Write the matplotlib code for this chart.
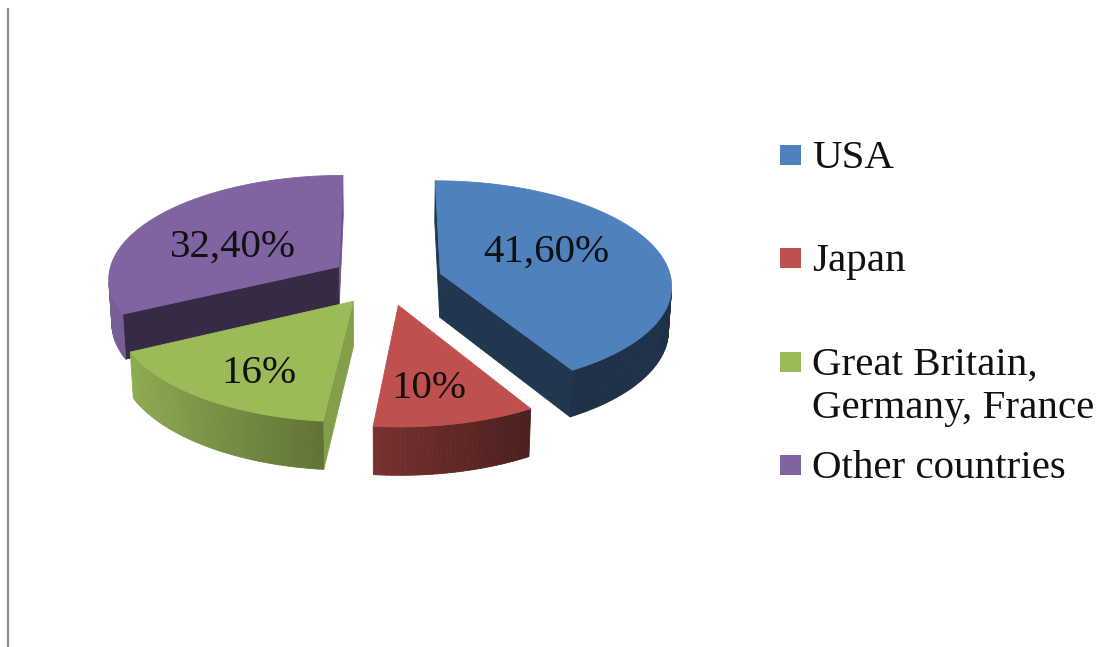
import numpy as np
import matplotlib.pyplot as plt
from matplotlib.patches import Polygon, Rectangle
from matplotlib.collections import PolyCollection
from matplotlib.colors import to_rgb

countries = ["USA", "Japan", "Great Britain,\nGermany, France", "Other countries"]
shares = [41.6, 10.0, 16.0, 32.4]
colors = ["#4F81BD", "#C0504D", "#9BBB59", "#8064A2"]

# where the value sits on each top face: (distance in radii, angle shift in deg)
label_pos = [(0.54, -12.5), (0.69, 2.5), (0.70, -3.0), (0.535, -5.0)]

# 3d view, canvas is in pixel units
CX, CY = 386, 280
F = 231            # pie radius (px)
EL = np.radians(26.6)
DIST = 8.7         # camera distance, in radii
THICK = 0.215
EXPLODE = 0.245
FS = 29.5
FONT = "Liberation Serif"

S, C = np.sin(EL), np.cos(EL)
cam = np.array([0.0, -DIST * C, DIST * S])


def depth(u, v, z):
    return 1 + (v * C - z * S) / DIST


def project(u, v, z):
    d = depth(u, v, z)
    return CX + F * u / d, CY - F * (v * S + z * C) / d


def facing(p, n):
    return np.dot(n, cam - p) > 0


def rim_shade(t):
    # light comes from the left for the curved side
    return max(0.38, 0.58 + 0.38 * np.cos(np.radians(t - 270)))


def cut_shade(t):
    # flat cut faces are dark unless they look to the right
    return 0.42 + 0.45 * max(0.0, np.cos(np.radians(t - 90))) ** 8


def shade(col, k):
    return tuple(np.clip(np.array(to_rgb(col)) * k, 0, 1))


fig = plt.figure(figsize=(11.02, 6.47), dpi=100)
ax = fig.add_axes([0, 0, 1, 1])
ax.set_xlim(0, 1102)
ax.set_ylim(647, 0)
ax.axis("off")

# frame line on the left
ax.plot([8, 8], [8, 647], color="#8a8a8a", lw=1.6, solid_capstyle="butt")

bounds = np.concatenate([[0], np.cumsum(shares)]) / sum(shares) * 360
slices = []
for i in range(len(shares)):
    t1, t2 = bounds[i], bounds[i + 1]
    mid = (t1 + t2) / 2
    ou = EXPLODE * np.sin(np.radians(mid))
    ov = EXPLODE * np.cos(np.radians(mid))
    slices.append((depth(ou, ov, 0), i, t1, t2, mid, ou, ov))

# farthest slice first
slices.sort(key=lambda s: -s[0])

for _, i, t1, t2, mid, ou, ov in slices:
    col = colors[i]
    th = np.linspace(t1, t2, int(t2 - t1) + 2)
    ru = ou + np.sin(np.radians(th))
    rv = ov + np.cos(np.radians(th))

    faces = []
    # curved side
    for k in range(len(th) - 1):
        tm = np.radians((th[k] + th[k + 1]) / 2)
        n = np.array([np.sin(tm), np.cos(tm), 0])
        p = np.array([ou + np.sin(tm), ov + np.cos(tm), -THICK / 2])
        if facing(p, n):
            quad = [project(ru[k], rv[k], 0), project(ru[k + 1], rv[k + 1], 0),
                    project(ru[k + 1], rv[k + 1], -THICK), project(ru[k], rv[k], -THICK)]
            faces.append((depth(*p), quad, shade(col, rim_shade(np.degrees(tm)))))
    # cut faces
    for t, sgn in ((t1, -1), (t2, 1)):
        a = np.radians(t)
        n = np.array([sgn * np.cos(a), -sgn * np.sin(a), 0])
        eu, ev = ou + np.sin(a), ov + np.cos(a)
        p = np.array([(ou + eu) / 2, (ov + ev) / 2, -THICK / 2])
        if facing(p, n):
            quad = [project(ou, ov, 0), project(eu, ev, 0),
                    project(eu, ev, -THICK), project(ou, ov, -THICK)]
            nang = np.degrees(np.arctan2(n[0], n[1])) % 360
            faces.append((depth(*p), quad, shade(col, cut_shade(nang))))

    faces.sort(key=lambda f: -f[0])
    if faces:
        fc = [f[2] for f in faces]
        ax.add_collection(PolyCollection([f[1] for f in faces], facecolors=fc,
                                         edgecolors=fc, linewidths=0.6))

    top = [project(ou, ov, 0)] + [project(u, v, 0) for u, v in zip(ru, rv)]
    ax.add_patch(Polygon(top, closed=True, facecolor=col, edgecolor=col, lw=0.6))

# value labels
cap_half = 0.655 * FS * 100 / 72 / 2
for i, val in enumerate(shares):
    t1, t2 = bounds[i], bounds[i + 1]
    mid = (t1 + t2) / 2
    ou = EXPLODE * np.sin(np.radians(mid))
    ov = EXPLODE * np.cos(np.radians(mid))
    r, dth = label_pos[i]
    a = np.radians(mid + dth)
    x, y = project(ou + r * np.sin(a), ov + r * np.cos(a), 0)
    if float(val).is_integer():
        txt = f"{int(val)}%"
    else:
        txt = f"{val:.2f}%".replace(".", ",")
    ax.text(x, y + cap_half, txt, ha="center", va="baseline",
            fontsize=FS, family=FONT, color="#111111")

# legend, square lines up with the first text line
for i, name in enumerate(countries):
    yc = 155 + 103.3 * i
    ax.add_patch(Rectangle((780, yc - 10), 21, 20, facecolor=colors[i], edgecolor="none"))
    for j, line in enumerate(name.split("\n")):
        ax.text(812, yc + 13 + 43 * j, line, ha="left", va="baseline", fontsize=FS,
                family=FONT, color="#111111")

fig.savefig("out.png", dpi=100, facecolor="white")
